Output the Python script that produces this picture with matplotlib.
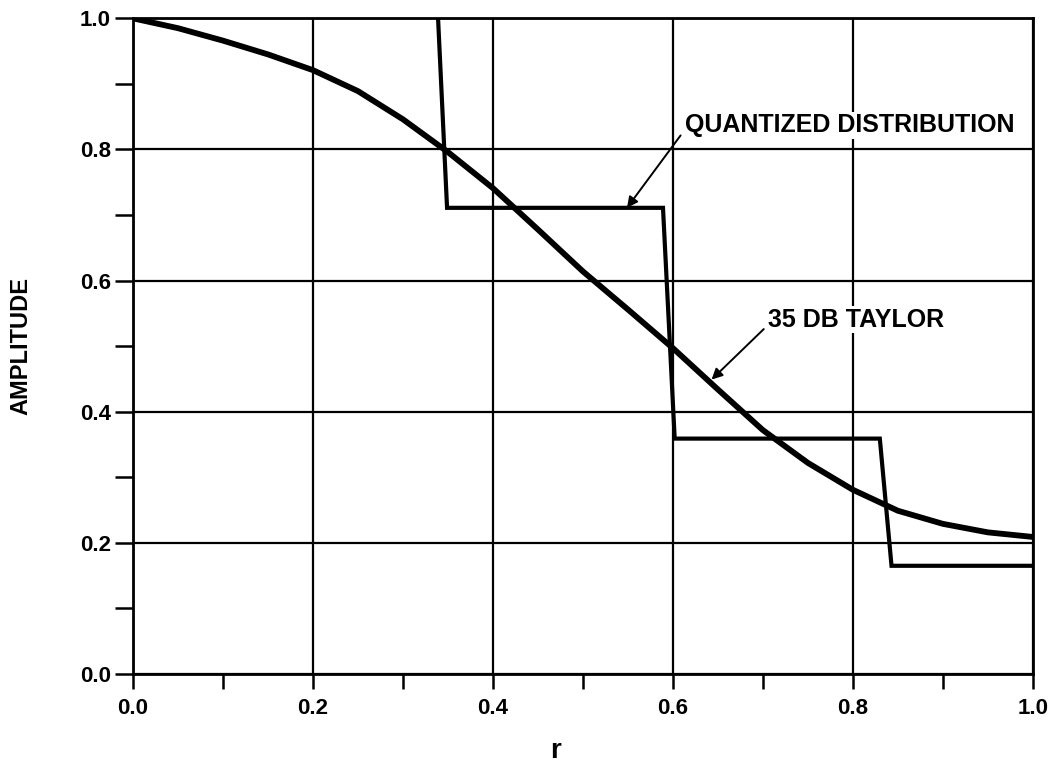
import matplotlib
matplotlib.use("Agg")
import matplotlib.pyplot as plt
from matplotlib.ticker import MultipleLocator

plt.rcParams['font.family'] = ['Liberation Sans', 'DejaVu Sans']
plt.rcParams['font.weight'] = 'bold'

# 35 dB Taylor taper
taylor_r = [0.0, 0.05, 0.1, 0.15, 0.2, 0.25, 0.3, 0.35, 0.4, 0.45, 0.5,
            0.55, 0.6, 0.65, 0.7, 0.75, 0.8, 0.85, 0.9, 0.95, 1.0]
taylor_amp = [1.0, 0.985, 0.966, 0.945, 0.921, 0.889, 0.846, 0.796, 0.741, 0.678, 0.614,
              0.556, 0.497, 0.434, 0.372, 0.322, 0.281, 0.249, 0.229, 0.216, 0.209]

# quantized (stepped) distribution
quant_r = [0.339, 0.349, 0.589, 0.602, 0.830, 0.843, 1.0]
quant_amp = [1.0, 0.711, 0.711, 0.359, 0.359, 0.165, 0.165]

fig = plt.figure(figsize=(10.56, 7.65), dpi=100)
ax = fig.add_axes([0.126, 0.119, 0.852, 0.857])

ax.plot(taylor_r, taylor_amp, color='black', lw=4.2, solid_capstyle='butt',
        solid_joinstyle='round', zorder=3)
ax.plot(quant_r, quant_amp, color='black', lw=3.0, solid_joinstyle='miter', zorder=3)

ax.set_xlim(0, 1)
ax.set_ylim(0, 1)
ax.xaxis.set_major_locator(MultipleLocator(0.2))
ax.xaxis.set_minor_locator(MultipleLocator(0.1))
ax.yaxis.set_major_locator(MultipleLocator(0.2))
ax.yaxis.set_minor_locator(MultipleLocator(0.1))
ax.xaxis.set_major_formatter(lambda v, p: f"{v:.1f}")
ax.yaxis.set_major_formatter(lambda v, p: f"{v:.1f}")
ax.grid(True, which='major', color='black', lw=1.6)

ax.tick_params(axis='x', which='both', direction='out', length=11, width=1.8, pad=6, labelsize=16)
ax.tick_params(axis='y', which='both', direction='out', length=13, width=1.8, pad=3, labelsize=16)
for s in ax.spines.values():
    s.set_linewidth(2)

ax.set_ylabel("AMPLITUDE", fontsize=17, fontweight='bold')
ax.yaxis.set_label_coords(-0.112, 0.5)
ax.set_xlabel("r", fontsize=20, fontweight='bold')
ax.xaxis.set_label_coords(0.469, -0.097)

box = dict(facecolor='white', edgecolor='none', pad=1)
arrow = dict(arrowstyle='-|>', color='black', lw=1.4, shrinkA=3, shrinkB=0,
             mutation_scale=16, relpos=(0, 0.3))
ax.annotate("QUANTIZED DISTRIBUTION", xy=(0.549, 0.711), xytext=(0.613, 0.837),
            fontsize=18, fontweight='bold', va='center', ha='left', bbox=box, zorder=5,
            arrowprops=arrow)
ax.annotate("35 DB TAYLOR", xy=(0.643, 0.449), xytext=(0.706, 0.54),
            fontsize=18, fontweight='bold', va='center', ha='left', bbox=box, zorder=5,
            arrowprops=arrow)

fig.savefig("out.png", dpi=100)
